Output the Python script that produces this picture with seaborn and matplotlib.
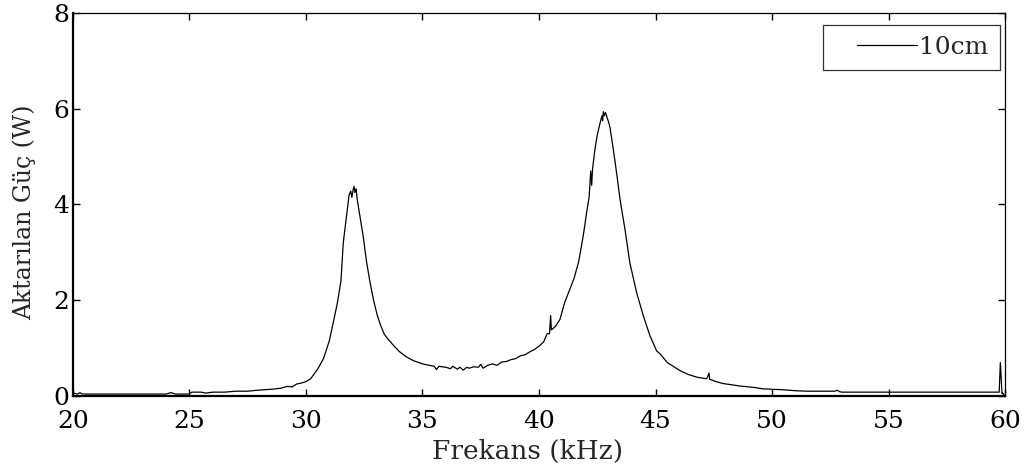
import matplotlib
matplotlib.use('Agg')
from matplotlib import pyplot as plt
from matplotlib.legend_handler import HandlerLine2D
import seaborn as sns
import pandas as pd

# frequency (kHz) and transferred power (W)
freq = [20.0, 20.2, 20.3, 20.4, 21.0, 22.0, 23.0, 24.0, 24.2, 24.4, 25.0, 25.1,
        25.5, 25.7, 26.0, 26.5, 27.0, 27.5, 27.9, 28.2, 28.5, 28.9, 29.2, 29.4,
        29.6, 29.8, 30.0, 30.2, 30.5, 30.75, 31.0, 31.2, 31.35, 31.5, 31.6, 31.75,
        31.85, 31.92, 31.97, 32.02, 32.06, 32.1, 32.15, 32.2, 32.3, 32.45, 32.6,
        32.75, 32.9, 33.05, 33.2, 33.35, 33.5, 33.75, 34.0, 34.3, 34.6, 35.0,
        35.3, 35.5, 35.6, 35.7, 36.0, 36.2, 36.3, 36.5, 36.6, 36.75, 36.9, 37.0,
        37.2, 37.4, 37.5, 37.6, 37.8, 38.0, 38.2, 38.4, 38.6, 38.8, 39.0, 39.2,
        39.4, 39.6, 39.8, 40.0, 40.2, 40.35, 40.45, 40.5, 40.53, 40.7, 40.9,
        41.1, 41.3, 41.5, 41.7, 41.9, 42.05, 42.15, 42.22, 42.26, 42.3, 42.4,
        42.5, 42.62, 42.7, 42.73, 42.76, 42.8, 42.85, 42.9, 43.0, 43.05, 43.19,
        43.33, 43.48, 43.69, 43.9, 44.19, 44.48, 44.76, 45.05, 45.2, 45.5, 46.05,
        46.4, 46.8, 47.2, 47.3, 47.32, 47.6, 47.9, 48.6, 49.2, 49.6, 50.0, 50.5,
        51.0, 51.5, 52.0, 52.7, 52.8, 52.9, 53.0, 55.0, 57.0, 59.75, 59.8,
        59.87, 59.9, 60.0]
power = [0.06, 0.04, 0.07, 0.04, 0.04, 0.04, 0.04, 0.04, 0.07, 0.04, 0.04, 0.08,
         0.08, 0.06, 0.08, 0.08, 0.10, 0.10, 0.12, 0.13, 0.14, 0.16, 0.20, 0.19,
         0.25, 0.27, 0.30, 0.36, 0.56, 0.78, 1.15, 1.60, 1.95, 2.40, 3.20, 3.80,
         4.20, 4.28, 4.15, 4.30, 4.38, 4.25, 4.33, 4.10, 3.80, 3.35, 2.80,
         2.37, 2.00, 1.70, 1.48, 1.30, 1.20, 1.06, 0.93, 0.82, 0.74, 0.67,
         0.64, 0.62, 0.55, 0.62, 0.60, 0.57, 0.62, 0.56, 0.60, 0.54, 0.60, 0.58,
         0.61, 0.60, 0.66, 0.58, 0.64, 0.67, 0.64, 0.71, 0.72, 0.76, 0.78, 0.84,
         0.86, 0.92, 0.97, 1.04, 1.13, 1.30, 1.30, 1.68, 1.38, 1.45, 1.60,
         1.95, 2.20, 2.45, 2.80, 3.35, 3.85, 4.15, 4.70, 4.40, 4.75, 5.15,
         5.45, 5.70, 5.85, 5.75, 5.94, 5.85, 5.92, 5.85, 5.70, 5.60, 5.15,
         4.66, 4.10, 3.48, 2.78, 2.16, 1.67, 1.26, 0.94, 0.88, 0.70, 0.53,
         0.45, 0.39, 0.36, 0.48, 0.35, 0.30, 0.26, 0.21, 0.18, 0.15, 0.14, 0.13,
         0.11, 0.10, 0.10, 0.10, 0.12, 0.09, 0.08, 0.08, 0.08, 0.08, 0.70,
         0.05, 0.06, 0.0]

x_ticks = [20, 25, 30, 35, 40, 45, 50, 55, 60]
y_ticks = [0, 2, 4, 6, 8]


def PlotAll(outfile):
    sns.set_style('ticks')
    plt.rcParams['font.family'] = ['DejaVu Serif']
    pd_data = pd.DataFrame({'f': freq, 'p': power, 'label': '10cm'})

    fig = plt.figure(figsize=(10.25, 4.74), dpi=100)
    axe = fig.add_axes([0.0712, 0.1646, 0.9093, 0.808])
    sns.lineplot(data=pd_data, x='f', y='p', hue='label', palette=['black'],
                 linewidth=0.9, estimator=None, sort=False, ax=axe)

    axe.set_xlim(20, 60)
    axe.set_ylim(0, 8)
    axe.set_xticks(x_ticks)
    axe.set_yticks(y_ticks)
    axe.tick_params(direction='in', length=5, width=1, labelsize=18,
                    top=True, right=True, colors='black')
    axe.tick_params(axis='x', pad=10)
    axe.tick_params(axis='y', pad=3)
    for s in ['left', 'bottom']:
        axe.spines[s].set_linewidth(1.6)
    for s in ['top', 'right']:
        axe.spines[s].set_linewidth(0.9)
    for sp in axe.spines.values():
        sp.set_color('black')
    axe.set_xlabel('Frekans (kHz)', size=19, labelpad=4)
    axe.set_ylabel('Aktarılan Güç (W)', size=17, labelpad=12)
    axe.xaxis.label.set_x(0.488)
    axe.yaxis.label.set_y(0.48)

    handles, labels = axe.get_legend_handles_labels()
    leg = axe.legend(handles, labels, loc='upper right',
                     bbox_to_anchor=(0.9946, 0.9687), borderaxespad=0,
                     fontsize=18, handlelength=3.3, frameon=True,
                     fancybox=False, handletextpad=0.1, borderpad=0.45,
                     handler_map={handles[0]: HandlerLine2D(xpad=0.9)})
    leg.get_frame().set_edgecolor('black')
    leg.get_frame().set_linewidth(0.9)
    for h in leg.get_lines():
        h.set_linewidth(0.9)
    plt.savefig(outfile, dpi=100)


def main():
    PlotAll('out.png')


if __name__ == '__main__':
    main()
